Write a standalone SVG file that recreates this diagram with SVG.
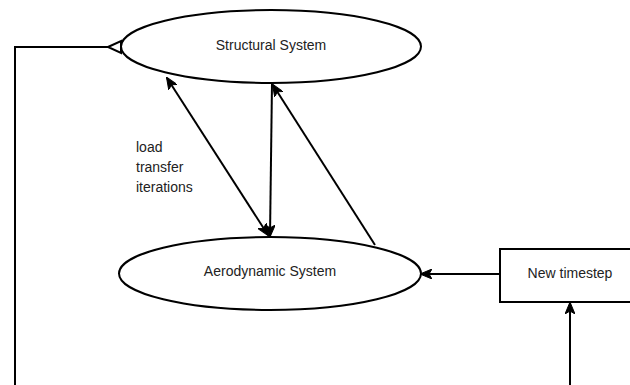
<svg xmlns="http://www.w3.org/2000/svg" width="630" height="385" viewBox="0 0 630 385">
  <defs>
    <marker id="arrow" viewBox="0 0 12 10" refX="11" refY="5" markerWidth="12" markerHeight="10" markerUnits="userSpaceOnUse" orient="auto-start-reverse">
      <path d="M0,0 L12,5 L0,10 L3,5 z" fill="#000" stroke="#000" stroke-width="1"/>
    </marker>
  </defs>
  <style>
    .shape { fill: #fff; stroke: #000; stroke-width: 2; }
    .edge { fill: none; stroke: #000; stroke-width: 2; }
    .label { font-family: "Liberation Sans", Arial, sans-serif; font-size: 14px; fill: #222; }
    .center { text-anchor: middle; dominant-baseline: central; }
  </style>

  <g id="connectors">
    <!-- feedback loop from the bottom edge to the structural system -->
    <path class="edge" d="M15,385 L15,47 L108,47"/>
    <path d="M108,47 L121,41 L121,53 z" fill="#fff" stroke="#000" stroke-width="2" stroke-linejoin="miter"/>
    <!-- load transfer iterations (two-way) -->
    <line class="edge" x1="167" y1="78" x2="268" y2="235" marker-start="url(#arrow)" marker-end="url(#arrow)"/>
    <!-- structural to aerodynamic -->
    <line class="edge" x1="272" y1="83" x2="270" y2="236" marker-end="url(#arrow)"/>
    <!-- aerodynamic to structural -->
    <line class="edge" x1="375" y1="245" x2="273" y2="85" marker-end="url(#arrow)"/>
    <!-- new timestep to aerodynamic -->
    <line class="edge" x1="500" y1="274" x2="421" y2="274" marker-end="url(#arrow)"/>
    <!-- incoming to new timestep -->
    <line class="edge" x1="570" y1="385" x2="570" y2="303" marker-end="url(#arrow)"/>
  </g>

  <g id="structural">
    <ellipse class="shape" cx="271" cy="46.5" rx="150" ry="36.5"/>
    <text class="label center" x="271" y="45">Structural System</text>
  </g>

  <g id="aerodynamic">
    <ellipse class="shape" cx="270" cy="273.5" rx="151" ry="36.5"/>
    <text class="label center" x="270" y="271">Aerodynamic System</text>
  </g>

  <g id="timestep">
    <rect class="shape" x="500" y="249" width="140" height="53"/>
    <text class="label center" x="570" y="273">New timestep</text>
  </g>

  <g id="iterations-label">
    <text class="label" x="136" y="152">load</text>
    <text class="label" x="136" y="172">transfer</text>
    <text class="label" x="136" y="192">iterations</text>
  </g>
</svg>
